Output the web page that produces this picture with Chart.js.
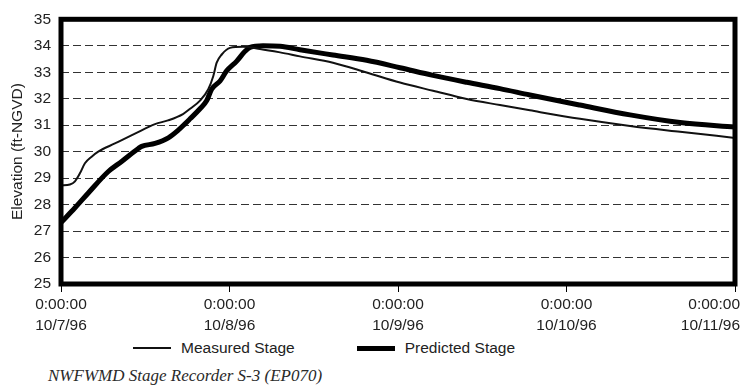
<!DOCTYPE html>
<html>
<head>
<meta charset="utf-8">
<title>NWFWMD Stage Recorder S-3 (EP070)</title>
<script src="https://cdn.jsdelivr.net/npm/chart.js@4.4.1/dist/chart.umd.min.js"></script>
<style>
	body { margin: 0; background: #fff; }
	#wrap { position: relative; width: 741px; height: 389px; font-family: "Liberation Sans", Arial, sans-serif; color: #222; }
	#chartBox { position: absolute; left: 0; top: 0; width: 741px; height: 336px; }
	#legend { position: absolute; left: 133px; top: 338px; display: flex; gap: 62px; font-size: 15.5px; line-height: 20px; }
	.item { display: flex; align-items: center; }
	.swatch { display: inline-block; width: 38px; background: #111; margin-right: 10px; }
	#caption { position: absolute; left: 48px; top: 365px; font: italic 17px "Liberation Serif", "DejaVu Serif", serif; line-height: 22px; color: #2a2a2a; }
</style>
</head>
<body>
<div id="wrap">
	<div id="chartBox"><canvas id="stageChart"></canvas></div>
	<div id="legend"></div>
	<div id="caption">NWFWMD Stage Recorder S-3 (EP070)</div>
</div>
<script>
// Stage readings taken off the recorder plot
// x = days after 0:00 on 10/7/96, y = elevation in ft-NGVD
const seriesNames = ["Measured Stage", "Predicted Stage"];
const dayLabels = ["10/7/96", "10/8/96", "10/9/96", "10/10/96", "10/11/96"];
const timeLabel = "0:00:00";

const measuredDays = [0, 0.053, 0.083, 0.113, 0.142, 0.182, 0.221, 0.320, 0.439, 0.558, 0.635, 0.724, 0.766, 0.825, 0.874, 0.904, 0.924, 0.954, 1.003, 1.080, 1.181, 1.300, 1.418, 1.614, 1.814, 2.012, 2.208, 2.408, 2.605, 2.783, 3.080, 3.377, 3.674, 4.0];
const measuredStage = [28.72, 28.76, 28.88, 29.19, 29.56, 29.81, 30.0, 30.31, 30.68, 31.04, 31.18, 31.42, 31.62, 31.93, 32.36, 32.86, 33.36, 33.67, 33.92, 33.96, 33.88, 33.75, 33.6, 33.36, 32.99, 32.61, 32.3, 31.99, 31.76, 31.56, 31.24, 30.97, 30.75, 30.52];

const predictedDays = [0, 0.083, 0.162, 0.281, 0.360, 0.459, 0.479, 0.558, 0.637, 0.696, 0.736, 0.766, 0.825, 0.865, 0.894, 0.944, 0.983, 1.043, 1.092, 1.122, 1.199, 1.300, 1.418, 1.614, 1.814, 2.012, 2.208, 2.408, 2.605, 2.783, 3.080, 3.377, 3.674, 4.0];
const predictedStage = [27.32, 27.88, 28.44, 29.25, 29.63, 30.12, 30.2, 30.31, 30.52, 30.81, 31.05, 31.24, 31.62, 31.93, 32.36, 32.67, 33.05, 33.42, 33.79, 33.94, 34.0, 33.98, 33.85, 33.65, 33.45, 33.17, 32.88, 32.62, 32.38, 32.14, 31.76, 31.39, 31.1, 30.93];

function toPoints(days, values) {
	return days.map((d, i) => ({ x: d, y: values[i] }));
}

// Black frame round the plot area (v4 has no chart area border option)
const plotFrame = {
	id: "plotFrame",
	afterDatasetsDraw(chart) {
		const { ctx, chartArea: a } = chart;
		ctx.save();
		ctx.strokeStyle = "#000";
		ctx.lineWidth = 5;
		ctx.strokeRect(a.left, a.top, a.right - a.left, a.bottom - a.top);
		ctx.restore();
	}
};

// Keep the last date label flush with the right edge, like the original
const lastLabelFlush = {
	id: "lastLabelFlush",
	beforeDraw(chart) {
		const items = chart.scales.x.getLabelItems();
		const last = items[items.length - 1];
		if (last) {
			last.options.textAlign = "right";
			last.options.translation[0] = chart.width - 1;
		}
	}
};

Chart.defaults.font.family = "'Liberation Sans', Arial, sans-serif";
Chart.defaults.font.size = 15.5;
Chart.defaults.color = "#222";

const stageChart = new Chart(document.getElementById("stageChart"), {
	type: "line",
	data: {
		datasets: [
			{
				label: seriesNames[0],
				data: toPoints(measuredDays, measuredStage),
				borderColor: "#111",
				borderWidth: 2,
				pointRadius: 0,
				cubicInterpolationMode: "monotone",
				fill: false,
			},
			{
				label: seriesNames[1],
				data: toPoints(predictedDays, predictedStage),
				borderColor: "#000",
				borderWidth: 5,
				pointRadius: 0,
				cubicInterpolationMode: "monotone",
				fill: false,
			},
		],
	},
	options: {
		responsive: true,
		maintainAspectRatio: false,
		animation: false,
		layout: {
			padding: { top: 16, right: 6, bottom: 0, left: 0 },
		},
		plugins: {
			legend: { display: false },
			tooltip: { enabled: false },
		},
		scales: {
			x: {
				type: "linear",
				min: 0,
				max: 4,
				ticks: {
					stepSize: 1,
					autoSkip: false,
					maxRotation: 0,
					padding: 3,
					font: { size: 15.5, lineHeight: 1.3 },
					callback: (value, index) => [timeLabel, dayLabels[index]],
				},
				grid: {
					drawOnChartArea: false,
					drawTicks: true,
					tickLength: 8,
					color: "#000",
				},
				border: { display: false },
				afterFit(scale) {
					scale.height = 52;
					scale.paddingLeft = 0;
					scale.paddingRight = 0;
				},
			},
			y: {
				min: 25,
				max: 35,
				ticks: {
					stepSize: 1,
					padding: 10,
				},
				grid: {
					color: "#333",
					lineWidth: 1,
					drawTicks: false,
				},
				border: { display: false, dash: [8, 4] },
				title: {
					display: true,
					text: "Elevation (ft-NGVD)",
					padding: { top: 8, bottom: 0 },
				},
				afterFit(scale) {
					scale.width = 61;
				},
			},
		},
	},
	plugins: [plotFrame, lastLabelFlush],
});

// Legend below the plot, built from the datasets
const legendEl = document.getElementById("legend");
stageChart.data.datasets.forEach((ds) => {
	const item = document.createElement("div");
	item.className = "item";
	const swatch = document.createElement("span");
	swatch.className = "swatch";
	swatch.style.height = ds.borderWidth + "px";
	swatch.style.background = ds.borderColor;
	const text = document.createElement("span");
	text.textContent = ds.label;
	item.appendChild(swatch);
	item.appendChild(text);
	legendEl.appendChild(item);
});
</script>
</body>
</html>
